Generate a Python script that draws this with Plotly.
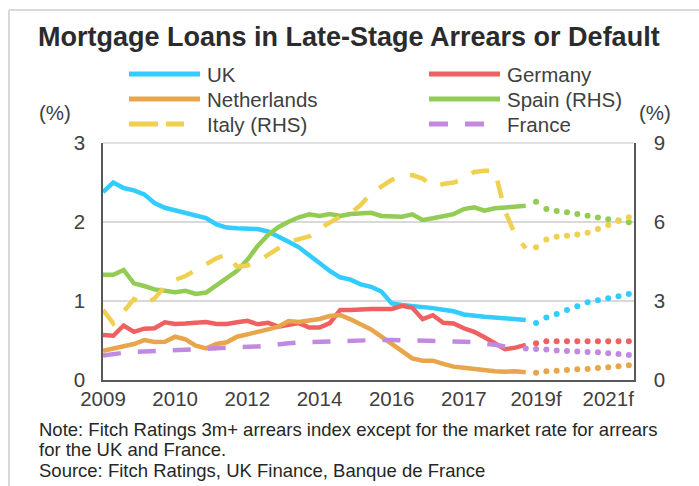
import plotly.graph_objects as go

# ---------------- data ----------------
quarters = [f"{y}Q{q}" for y in range(2009, 2022) for q in range(1, 5)]  # 52 quarters
tick_idx = [0, 7, 14, 21, 28, 35, 42, 49]
tick_labels = ["2009", "2010", "2012", "2014", "2016", "2017", "2019f", "2021f"]

uk = [2.38, 2.50, 2.43, 2.40, 2.35, 2.24, 2.18, 2.15, 2.12, 2.09, 2.05, 1.97, 1.93, 1.92,
      1.92, 1.91, 1.88, 1.82, 1.75, 1.68, 1.58, 1.47, 1.38, 1.30, 1.27, 1.21, 1.18, 1.12,
      0.97, 0.95, 0.94, 0.93, 0.91, 0.89, 0.87, 0.83, 0.81, 0.80, 0.79, 0.78, 0.77, 0.76]
uk_f = [0.72, 0.79, 0.835, 0.885, 0.935, 0.985, 1.01, 1.035, 1.06, 1.09]

germany = [0.57, 0.56, 0.69, 0.61, 0.65, 0.655, 0.73, 0.71, 0.715, 0.725, 0.735, 0.71, 0.71, 0.73,
           0.75, 0.705, 0.725, 0.675, 0.70, 0.72, 0.665, 0.665, 0.72, 0.885, 0.885, 0.895, 0.90, 0.90,
           0.90, 0.94, 0.915, 0.77, 0.82, 0.725, 0.715, 0.655, 0.61, 0.54, 0.465, 0.39, 0.41, 0.445]
germany_f = [0.465, 0.49, 0.49, 0.49, 0.49, 0.49, 0.49, 0.49, 0.49, 0.49]

netherlands = [0.37, 0.40, 0.435, 0.456, 0.506, 0.48, 0.485, 0.548, 0.515, 0.435, 0.40, 0.456, 0.477, 0.548,
               0.578, 0.603, 0.641, 0.675, 0.747, 0.734, 0.751, 0.772, 0.81, 0.823, 0.768, 0.709, 0.64, 0.548,
               0.456, 0.371, 0.274, 0.245, 0.245, 0.203, 0.169, 0.156, 0.139, 0.127, 0.11, 0.105, 0.11, 0.097]
netherlands_f = [0.093, 0.11, 0.118, 0.127, 0.135, 0.139, 0.152, 0.16, 0.173, 0.186]

spain = [4.0, 4.0, 4.18, 3.67, 3.57, 3.44, 3.39, 3.33, 3.39, 3.27, 3.32, 3.59, 3.90, 4.15,
         4.56, 5.09, 5.51, 5.80, 6.01, 6.18, 6.29, 6.23, 6.30, 6.23, 6.30, 6.33, 6.35, 6.23,
         6.20, 6.20, 6.29, 6.08, 6.14, 6.20, 6.30, 6.49, 6.56, 6.43, 6.52, 6.55, 6.58, 6.62]
spain_f = [6.77, 6.49, 6.42, 6.37, 6.30, 6.24, 6.17, 6.10, 6.06, 5.99]

italy = [2.66, 2.15, 2.60, 3.07, 2.85, 3.10, 3.55, 3.80, 3.95, 4.17, 4.40, 4.62, 4.77, 4.30,
         4.35, 4.50, 4.75, 5.00, 5.25, 5.35, 5.45, 5.75, 5.98, 6.20, 6.33, 6.65, 7.09, 7.35,
         7.60, 7.75, 7.78, 7.65, 7.34, 7.44, 7.50, 7.62, 7.90, 7.95, 7.95, 6.40, 5.50, 5.00]
italy_f = [5.04, 5.34, 5.44, 5.48, 5.53, 5.59, 5.73, 5.89, 6.04, 6.18]

france = [0.31, 0.33, 0.345, 0.355, 0.36, 0.365, 0.37, 0.375, 0.385, 0.39, 0.395, 0.405, 0.41, 0.415,
          0.42, 0.425, 0.435, 0.455, 0.465, 0.475, 0.48, 0.49, 0.495, 0.50, 0.505, 0.51, 0.51, 0.508,
          0.506, 0.505, 0.503, 0.50, 0.498, 0.494, 0.49, 0.485, 0.477, 0.465, 0.445, 0.425, 0.41]
france_f = [0.40, 0.392, 0.385, 0.372, 0.367, 0.362, 0.355, 0.35, 0.338, 0.329, 0.316]

# ---------------- style ----------------
C_UK = "#33CCFF"
C_DE = "#EE6160"
C_NL = "#E8A54C"
C_ES = "#92CC55"
C_IT = "#F0D050"
C_FR = "#C18AE0"
FONT = "Liberation Sans, Arial, sans-serif"
TXT = "#404040"

W, H = 699, 486
L, R, T, B = 103, 634, 143, 380  # plot area in pixels


def px(x):
    return (x - L) / (R - L)


def py(y):
    return (B - y) / (B - T)


xpos = list(range(len(quarters)))

fig = go.Figure()


def add_series(actual, forecast, color, yaxis, dash=None):
    n = len(actual)
    fig.add_trace(go.Scatter(
        x=xpos[:n], y=actual, mode="lines", yaxis=yaxis,
        line=dict(color=color, width=4.5, dash=dash or "solid"),
        showlegend=False, hoverinfo="skip"))
    fig.add_trace(go.Scatter(
        x=xpos[n:n + len(forecast)], y=forecast, mode="markers", yaxis=yaxis,
        marker=dict(color=color, size=6, line=dict(width=0)),
        showlegend=False, hoverinfo="skip"))


add_series(uk, uk_f, C_UK, "y")
add_series(germany, germany_f, C_DE, "y")
add_series(netherlands, netherlands_f, C_NL, "y")
add_series(france, france_f, C_FR, "y", dash="18px,17px")
add_series(spain, spain_f, C_ES, "y2")
add_series(italy, italy_f, C_IT, "y2", dash="18px,16px")

shapes = []
# top of plot light line
shapes.append(dict(type="line", xref="paper", yref="paper", x0=0, x1=1, y0=1, y1=1,
                   line=dict(color="#d9d9d9", width=1.5), layer="below"))
# outer frame (left and top edges)
shapes.append(dict(type="line", xref="paper", yref="paper", x0=px(9), x1=px(W + 5), y0=py(10), y1=py(10),
                   line=dict(color="#d9d9d9", width=2)))
shapes.append(dict(type="line", xref="paper", yref="paper", x0=px(9), x1=px(9), y0=py(10), y1=py(H + 5),
                   line=dict(color="#d9d9d9", width=2)))

annotations = []
annotations.append(dict(text="<b>Mortgage Loans in Late-Stage Arrears or Default</b>",
                        x=px(36), y=py(37), xref="paper", yref="paper", xanchor="left", yanchor="middle",
                        showarrow=False, font=dict(family=FONT, size=27, color="#2b2b2b")))

# legend (manual, two columns)
legend_items = [
    ("UK", C_UK, None, 0, 0), ("Germany", C_DE, None, 1, 0),
    ("Netherlands", C_NL, None, 0, 1), ("Spain (RHS)", C_ES, None, 1, 1),
    ("Italy (RHS)", C_IT, "29px,8px,18px,100px", 0, 2), ("France", C_FR, "19px,17px,19px,100px", 1, 2),
]
col_x = [129, 429]
row_y = [74, 99, 124]
for name, color, dash, c, r in legend_items:
    x0 = col_x[c]
    yy = row_y[r]
    shapes.append(dict(type="line", xref="paper", yref="paper", x0=px(x0), x1=px(x0 + 71),
                       y0=py(yy), y1=py(yy), line=dict(color=color, width=5, dash=dash or "solid")))
    annotations.append(dict(text=name, x=px(x0 + 76), y=py(yy), xref="paper", yref="paper",
                            xanchor="left", yanchor="middle", showarrow=False,
                            font=dict(family=FONT, size=20.5, color=TXT)))

annotations.append(dict(text="(%)", x=px(55), y=py(112), xref="paper", yref="paper", xanchor="center",
                        yanchor="middle", showarrow=False, font=dict(family=FONT, size=20.5, color=TXT)))
annotations.append(dict(text="(%)", x=px(655), y=py(112), xref="paper", yref="paper", xanchor="center",
                        yanchor="middle", showarrow=False, font=dict(family=FONT, size=20.5, color=TXT)))

notes = ["Note: Fitch Ratings 3m+ arrears index except for the market rate for arrears",
         "for the UK and France.",
         "Source: Fitch Ratings, UK Finance, Banque de France"]
for i, line in enumerate(notes):
    annotations.append(dict(text=line, x=px(37), y=py(429 + 20.7 * i), xref="paper", yref="paper",
                            xanchor="left", yanchor="middle", showarrow=False,
                            font=dict(family=FONT, size=18.5, color="#262626")))

fig.update_layout(
    width=W, height=H,
    margin=dict(l=L, r=W - R, t=T, b=H - B, pad=0),
    paper_bgcolor="white", plot_bgcolor="white",
    showlegend=False,
    font=dict(family=FONT, color=TXT),
    xaxis=dict(range=[0, 51.5], tickmode="array", tickvals=tick_idx, ticktext=tick_labels,
               showgrid=False, zeroline=False, showline=True, linecolor="#595959", linewidth=1.5,
               ticks="", tickfont=dict(family=FONT, size=20.5, color=TXT), ticklabelstandoff=0),
    yaxis=dict(range=[0, 3], tickvals=[0, 1, 2, 3], showgrid=True, gridcolor="#d9d9d9", gridwidth=1.5,
               zeroline=False, showline=True, linecolor="#595959", linewidth=1.5, ticks="",
               tickfont=dict(family=FONT, size=20.5, color=TXT), ticklabelstandoff=12),
    yaxis2=dict(range=[0, 9], tickvals=[0, 3, 6, 9], overlaying="y", side="right", showgrid=False,
                zeroline=False, showline=True, linecolor="#595959", linewidth=1.5, ticks="",
                tickfont=dict(family=FONT, size=20.5, color=TXT), ticklabelstandoff=14),
    shapes=shapes,
    annotations=annotations,
)

fig.write_html("out.html")
